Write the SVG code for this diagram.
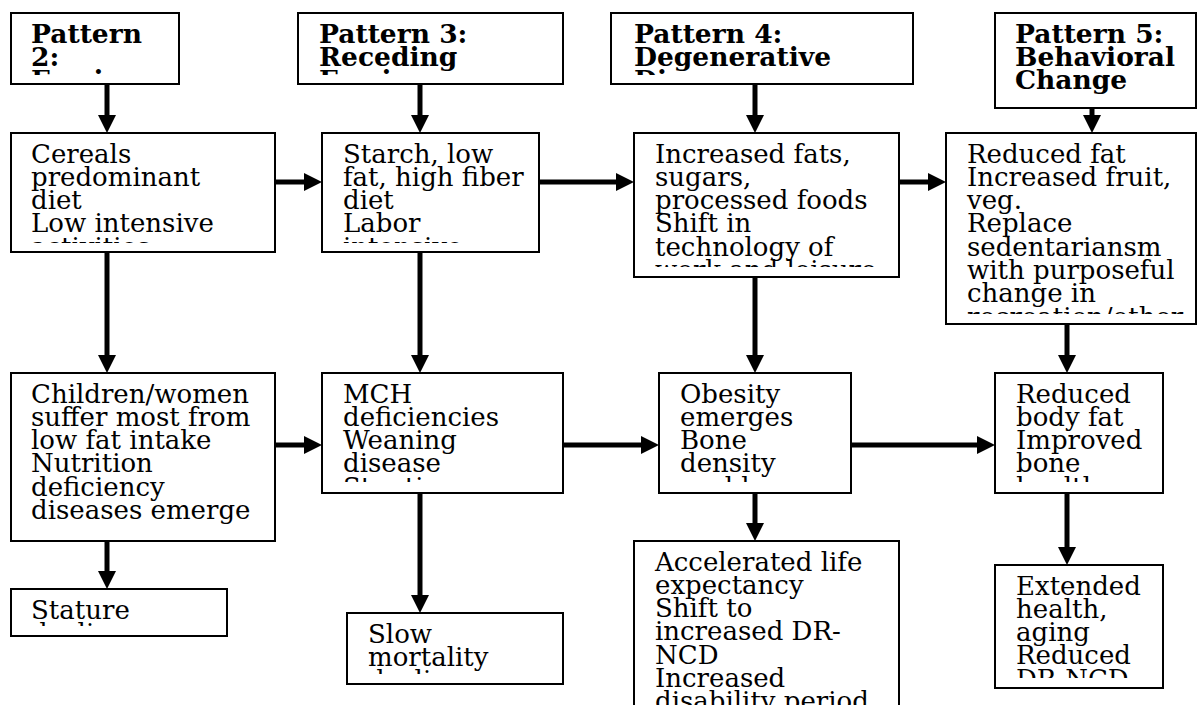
<svg xmlns="http://www.w3.org/2000/svg" width="1198" height="705" viewBox="0 0 1198 705">
<style>
.box{fill:#fff;stroke:#000;stroke-width:2}
.t{font-family:"DejaVu Serif","Liberation Serif",serif;font-size:26px;fill:#000}
.h{font-family:"DejaVu Serif","Liberation Serif",serif;font-size:26.5px;font-weight:bold;fill:#000}
.c{fill:none;stroke:#000;stroke-width:5}
</style>
<defs>
<marker id="ah" markerUnits="userSpaceOnUse" markerWidth="18" markerHeight="18" refX="0" refY="9" orient="auto">
<path d="M0,0 L18,9 L0,18 z" fill="#000"/>
</marker>
<clipPath id="cp2" clipPathUnits="userSpaceOnUse"><rect x="11" y="13" width="168" height="62"/></clipPath>
<clipPath id="cp3" clipPathUnits="userSpaceOnUse"><rect x="298" y="13" width="265" height="62"/></clipPath>
<clipPath id="cp4" clipPathUnits="userSpaceOnUse"><rect x="611" y="13" width="302" height="62"/></clipPath>
<clipPath id="cp5" clipPathUnits="userSpaceOnUse"><rect x="995" y="13" width="201" height="86"/></clipPath>
<clipPath id="cA" clipPathUnits="userSpaceOnUse"><rect x="11" y="133" width="264" height="110"/></clipPath>
<clipPath id="cB" clipPathUnits="userSpaceOnUse"><rect x="322" y="133" width="217" height="110"/></clipPath>
<clipPath id="cC" clipPathUnits="userSpaceOnUse"><rect x="634" y="133" width="265" height="134"/></clipPath>
<clipPath id="cD" clipPathUnits="userSpaceOnUse"><rect x="946" y="133" width="250" height="181"/></clipPath>
<clipPath id="cE" clipPathUnits="userSpaceOnUse"><rect x="11" y="373" width="264" height="158"/></clipPath>
<clipPath id="cF" clipPathUnits="userSpaceOnUse"><rect x="322" y="373" width="241" height="109"/></clipPath>
<clipPath id="cG" clipPathUnits="userSpaceOnUse"><rect x="659" y="373" width="192" height="109"/></clipPath>
<clipPath id="cH" clipPathUnits="userSpaceOnUse"><rect x="995" y="373" width="168" height="109"/></clipPath>
<clipPath id="cI" clipPathUnits="userSpaceOnUse"><rect x="11" y="589" width="216" height="37"/></clipPath>
<clipPath id="cJ" clipPathUnits="userSpaceOnUse"><rect x="347" y="613" width="216" height="61"/></clipPath>
<clipPath id="cK" clipPathUnits="userSpaceOnUse"><rect x="634" y="541" width="265" height="164"/></clipPath>
<clipPath id="cL" clipPathUnits="userSpaceOnUse"><rect x="995" y="565" width="168" height="113"/></clipPath>
</defs>
<rect width="1198" height="705" fill="#fff"/>

<g id="connectors">
<path class="c" d="M107,84 V115" marker-end="url(#ah)"/>
<path class="c" d="M420,84 V115" marker-end="url(#ah)"/>
<path class="c" d="M755,84 V115" marker-end="url(#ah)"/>
<path class="c" d="M1092,108 V115" marker-end="url(#ah)"/>
<path class="c" d="M275,182 H304" marker-end="url(#ah)"/>
<path class="c" d="M539,182 H616" marker-end="url(#ah)"/>
<path class="c" d="M899,182 H928" marker-end="url(#ah)"/>
<path class="c" d="M107,252 V355" marker-end="url(#ah)"/>
<path class="c" d="M420,252 V355" marker-end="url(#ah)"/>
<path class="c" d="M755,277 V355" marker-end="url(#ah)"/>
<path class="c" d="M1067,324 V355" marker-end="url(#ah)"/>
<path class="c" d="M275,445 H304" marker-end="url(#ah)"/>
<path class="c" d="M563,445 H641" marker-end="url(#ah)"/>
<path class="c" d="M851,445 H977" marker-end="url(#ah)"/>
<path class="c" d="M107,541 V571" marker-end="url(#ah)"/>
<path class="c" d="M420,493 V595" marker-end="url(#ah)"/>
<path class="c" d="M755,493 V523" marker-end="url(#ah)"/>
<path class="c" d="M1067,493 V547" marker-end="url(#ah)"/>
</g>

<g id="p2">
<rect class="box" x="11" y="13" width="168" height="71"/>
<text class="h" clip-path="url(#cp2)"><tspan x="31" y="42.5">Pattern</tspan><tspan x="31" dy="23">2:</tspan><tspan x="31" dy="23">Famine</tspan></text>
</g>
<g id="p3">
<rect class="box" x="298" y="13" width="265" height="71"/>
<text class="h" clip-path="url(#cp3)"><tspan x="319" y="42.5">Pattern 3:</tspan><tspan x="319" dy="23">Receding</tspan><tspan x="319" dy="23">Famine</tspan></text>
</g>
<g id="p4">
<rect class="box" x="611" y="13" width="302" height="71"/>
<text class="h" clip-path="url(#cp4)"><tspan x="634" y="42.5">Pattern 4:</tspan><tspan x="634" dy="23">Degenerative</tspan><tspan x="634" dy="23">Disease</tspan></text>
</g>
<g id="p5">
<rect class="box" x="995" y="13" width="201" height="95"/>
<text class="h" clip-path="url(#cp5)"><tspan x="1015" y="42.5">Pattern 5:</tspan><tspan x="1015" dy="23">Behavioral</tspan><tspan x="1015" dy="23">Change</tspan></text>
</g>

<g id="a">
<rect class="box" x="11" y="133" width="264" height="119"/>
<text class="t" clip-path="url(#cA)"><tspan x="31" y="162.5">Cereals</tspan><tspan x="31" dy="23.3">predominant</tspan><tspan x="31" dy="23.3">diet</tspan><tspan x="31" dy="23.3">Low intensive</tspan><tspan x="31" dy="23.3">activities</tspan></text>
</g>
<g id="b">
<rect class="box" x="322" y="133" width="217" height="119"/>
<text class="t" clip-path="url(#cB)"><tspan x="343" y="162.5">Starch, low</tspan><tspan x="343" dy="23.3">fat, high fiber</tspan><tspan x="343" dy="23.3">diet</tspan><tspan x="343" dy="23.3">Labor</tspan><tspan x="343" dy="23.3">intensive</tspan></text>
</g>
<g id="c">
<rect class="box" x="634" y="133" width="265" height="144"/>
<text class="t" clip-path="url(#cC)"><tspan x="655" y="162.5">Increased fats,</tspan><tspan x="655" dy="23.3">sugars,</tspan><tspan x="655" dy="23.3">processed foods</tspan><tspan x="655" dy="23.3">Shift in</tspan><tspan x="655" dy="23.3">technology of</tspan><tspan x="655" dy="23.3">work and leisure</tspan></text>
</g>
<g id="d">
<rect class="box" x="946" y="133" width="250" height="191"/>
<text class="t" clip-path="url(#cD)"><tspan x="967" y="162.5">Reduced fat</tspan><tspan x="967" dy="23.3">Increased fruit,</tspan><tspan x="967" dy="23.3">veg.</tspan><tspan x="967" dy="23.3">Replace</tspan><tspan x="967" dy="23.3">sedentariansm</tspan><tspan x="967" dy="23.3">with purposeful</tspan><tspan x="967" dy="23.3">change in</tspan><tspan x="967" dy="23.3">recreation/other</tspan></text>
</g>

<g id="e">
<rect class="box" x="11" y="373" width="264" height="168"/>
<text class="t" clip-path="url(#cE)"><tspan x="31" y="402.5">Children/women</tspan><tspan x="31" dy="23.3">suffer most from</tspan><tspan x="31" dy="23.3">low fat intake</tspan><tspan x="31" dy="23.3">Nutrition</tspan><tspan x="31" dy="23.3">deficiency</tspan><tspan x="31" dy="23.3">diseases emerge</tspan></text>
</g>
<g id="f">
<rect class="box" x="322" y="373" width="241" height="120"/>
<text class="t" clip-path="url(#cF)"><tspan x="343" y="402.5">MCH</tspan><tspan x="343" dy="23.3">deficiencies</tspan><tspan x="343" dy="23.3">Weaning</tspan><tspan x="343" dy="23.3">disease</tspan><tspan x="343" dy="23.3">Stunting</tspan></text>
</g>
<g id="g">
<rect class="box" x="659" y="373" width="192" height="120"/>
<text class="t" clip-path="url(#cG)"><tspan x="680" y="402.5">Obesity</tspan><tspan x="680" dy="23.3">emerges</tspan><tspan x="680" dy="23.3">Bone</tspan><tspan x="680" dy="23.3">density</tspan><tspan x="680" dy="23.3">problems</tspan></text>
</g>
<g id="h">
<rect class="box" x="995" y="373" width="168" height="120"/>
<text class="t" clip-path="url(#cH)"><tspan x="1016" y="402.5">Reduced</tspan><tspan x="1016" dy="23.3">body fat</tspan><tspan x="1016" dy="23.3">Improved</tspan><tspan x="1016" dy="23.3">bone</tspan><tspan x="1016" dy="23.3">health</tspan></text>
</g>

<g id="i">
<rect class="box" x="11" y="589" width="216" height="47"/>
<text class="t" clip-path="url(#cI)"><tspan x="31" y="618.5">Stature</tspan><tspan x="31" dy="23.3">declines</tspan></text>
</g>
<g id="j">
<rect class="box" x="347" y="613" width="216" height="71"/>
<text class="t" clip-path="url(#cJ)"><tspan x="368" y="642.5">Slow</tspan><tspan x="368" dy="23.3">mortality</tspan><tspan x="368" dy="23.3">decline</tspan></text>
</g>
<g id="k">
<rect class="box" x="634" y="541" width="265" height="180"/>
<text class="t" clip-path="url(#cK)"><tspan x="655" y="570.5">Accelerated life</tspan><tspan x="655" dy="23.3">expectancy</tspan><tspan x="655" dy="23.3">Shift to</tspan><tspan x="655" dy="23.3">increased DR-</tspan><tspan x="655" dy="23.3">NCD</tspan><tspan x="655" dy="23.3">Increased</tspan><tspan x="655" dy="23.3">disability period</tspan></text>
</g>
<g id="l">
<rect class="box" x="995" y="565" width="168" height="123"/>
<text class="t" clip-path="url(#cL)"><tspan x="1016" y="594.5">Extended</tspan><tspan x="1016" dy="23.3">health,</tspan><tspan x="1016" dy="23.3">aging</tspan><tspan x="1016" dy="23.3">Reduced</tspan><tspan x="1016" dy="23.3">DR-NCD</tspan></text>
</g>
</svg>
